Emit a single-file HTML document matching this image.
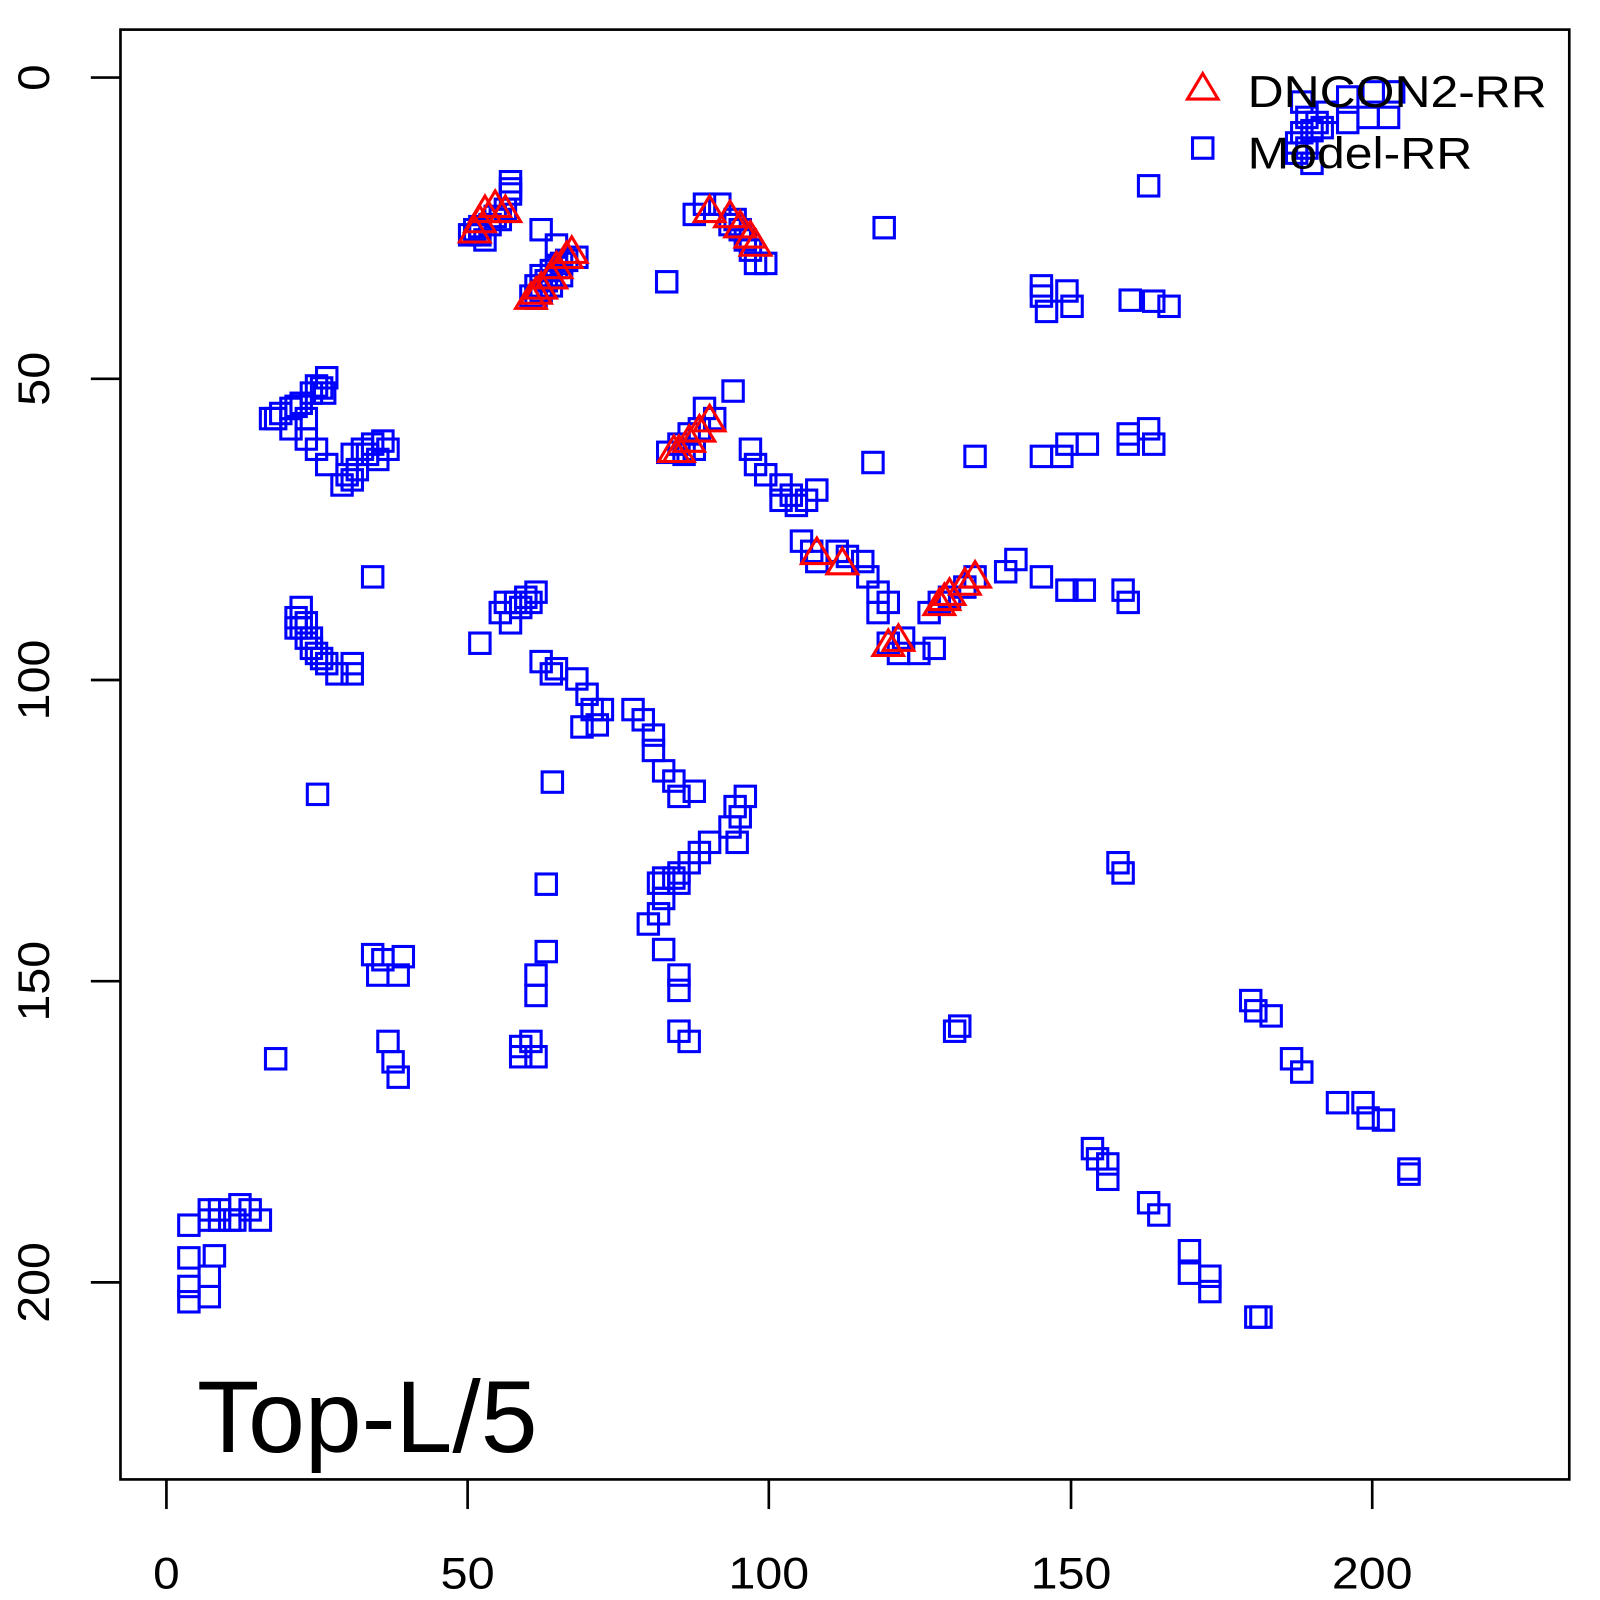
<!DOCTYPE html>
<html><head><meta charset="utf-8"><style>html,body{margin:0;padding:0;background:#fff}svg{display:block}</style></head>
<body>
<svg id="s" width="1600" height="1600" xmlns="http://www.w3.org/2000/svg" font-family="Liberation Sans, sans-serif">
<g transform="scale(1.021)">
<rect x="118" y="29" width="1419" height="1420" fill="none" stroke="#000" stroke-width="2.6"/>
<g stroke="#000" stroke-width="2.6">
<line x1="163" y1="1449" x2="163" y2="1478"/><line x1="458" y1="1449" x2="458" y2="1478"/><line x1="753" y1="1449" x2="753" y2="1478"/><line x1="1049" y1="1449" x2="1049" y2="1478"/><line x1="1344" y1="1449" x2="1344" y2="1478"/>
<line x1="89" y1="76" x2="118" y2="76"/><line x1="89" y1="371" x2="118" y2="371"/><line x1="89" y1="666" x2="118" y2="666"/><line x1="89" y1="961" x2="118" y2="961"/><line x1="89" y1="1256" x2="118" y2="1256"/>
</g>
<g font-size="44" text-anchor="middle" fill="#000" lengthAdjust="spacingAndGlyphs">
<text x="163" y="1556" textLength="26" lengthAdjust="spacingAndGlyphs">0</text><text x="458" y="1556" textLength="53" lengthAdjust="spacingAndGlyphs">50</text><text x="753" y="1556" textLength="79" lengthAdjust="spacingAndGlyphs">100</text><text x="1049" y="1556" textLength="79" lengthAdjust="spacingAndGlyphs">150</text><text x="1344" y="1556" textLength="79" lengthAdjust="spacingAndGlyphs">200</text>
<text transform="translate(48,76) rotate(-90)" textLength="26" lengthAdjust="spacingAndGlyphs">0</text>
<text transform="translate(48,371) rotate(-90)" textLength="53" lengthAdjust="spacingAndGlyphs">50</text>
<text transform="translate(48,666) rotate(-90)" textLength="79" lengthAdjust="spacingAndGlyphs">100</text>
<text transform="translate(48,961) rotate(-90)" textLength="79" lengthAdjust="spacingAndGlyphs">150</text>
<text transform="translate(48,1256) rotate(-90)" textLength="79" lengthAdjust="spacingAndGlyphs">200</text>
</g>
<g id="sq" fill="none" stroke="#00f" stroke-width="3"></g>
<g id="tr" fill="none" stroke="#f00" stroke-width="3"></g>
<text x="193" y="1422" font-size="100">Top-L/5</text>
<text x="1222" y="105" font-size="44" textLength="293" lengthAdjust="spacingAndGlyphs">DNCON2-RR</text>
<text x="1222" y="165" font-size="44" textLength="220" lengthAdjust="spacingAndGlyphs">Model-RR</text>
<rect x="1168" y="135" width="20" height="20" fill="none" stroke="#00f" stroke-width="3"/>
<polygon points="1178,72 1193,97 1163,97" fill="none" stroke="#f00" stroke-width="3"/>
</g>
</svg>
<script>
var S=[[1275,100],[1280,115],[1285,128],[1270,150],[1285,160],[1290,120],[1300,110],[1320,120],[1345,90],[1360,115],[1365,90],[1320,95],[1340,115],[1275,130],[1280,145],[1270,140],[1295,125],
[1125,182],[866,223],[653,276],
[500,178],[500,190],[495,205],[490,215],[480,220],[470,230],[460,230],[475,235],[465,225],[530,225],[545,240],[500,185],[485,212],[470,222],
[520,290],[530,285],[525,280],[535,275],[540,265],[550,258],[555,255],[565,252],[530,270],[545,262],[525,292],[540,280],[550,270],
[690,200],[705,200],[720,215],[725,225],[735,245],[740,258],[750,258],[680,210],[715,220],[730,235],
[1020,280],[1025,305],[1045,285],[1050,300],[1107,294],[1130,295],[1145,300],[1020,290],
[265,410],[275,405],[285,400],[295,395],[305,385],[315,380],[320,370],[300,410],[285,420],[300,430],[310,440],[320,455],[270,410],[290,398],[310,378],[318,385],
[345,445],[355,440],[365,435],[375,432],[380,440],[340,465],[335,475],[350,460],[370,450],[345,470],[360,445],
[654,443],[665,435],[675,425],[685,420],[690,400],[700,410],[680,440],[718,383],[670,445],
[735,440],[740,455],[750,465],[765,475],[775,485],[790,490],[800,480],[780,495],[765,490],
[855,453],[955,447],[1020,447],[1040,447],[1045,435],[1065,435],[1105,425],[1105,435],[1125,420],[1130,435],
[785,530],[795,540],[800,550],[820,540],[830,545],[845,550],[850,565],[860,580],[870,590],[860,600],[870,630],[880,640],[885,625],[900,640],[915,635],[910,600],[920,590],[930,585],[945,575],[955,565],[985,560],[995,548],[1020,565],[1045,578],[1062,578],[1100,578],[1105,590],
[365,565],
[290,605],[295,615],[300,625],[305,635],[310,640],[320,650],[330,660],[345,650],[345,660],[295,595],[290,615],[300,610],[305,625],[315,645],
[470,630],[490,600],[505,590],[515,585],[525,580],[500,610],[495,590],[510,595],[520,590],
[530,648],[545,655],[540,660],[565,665],[575,680],[580,695],[585,710],[590,695],[570,712],
[620,695],[630,705],[640,720],[640,735],[650,755],[660,765],[665,780],[680,775],
[311,778],[541,766],
[720,790],[730,780],[725,800],[715,810],[722,825],[695,825],[685,835],[675,845],[665,855],[650,860],[665,865],[650,880],[645,895],[635,905],[650,930],[665,955],[665,970],[665,1010],[675,1020],[660,860],[645,865],
[535,866],[535,932],[525,955],[525,975],[510,1025],[520,1020],[525,1035],[510,1035],
[365,935],[375,940],[395,937],[390,955],[370,955],[380,1020],[385,1040],[390,1055],[270,1037],
[1095,845],[1100,855],[940,1005],[935,1010],[1225,980],[1230,990],[1245,995],[1265,1037],[1275,1050],[1310,1080],[1335,1080],[1340,1095],[1355,1097],[1380,1145],[1380,1150],
[1070,1125],[1075,1135],[1085,1140],[1085,1155],[1125,1178],[1135,1190],[1165,1225],[1165,1247],[1185,1250],[1185,1265],[1235,1290],[1230,1290],
[185,1200],[185,1232],[185,1260],[185,1275],[205,1270],[205,1250],[210,1230],[205,1195],[215,1185],[225,1195],[235,1180],[245,1185],[255,1195],[205,1185],[230,1195],[215,1195]];
var T=[[470,215],[475,205],[485,200],[495,205],[465,225],[520,290],[530,280],[540,270],[545,260],[555,250],[560,245],[525,285],[695,205],[715,210],[725,220],[735,230],[740,238],[665,440],[675,430],[685,420],[695,410],[660,440],[800,540],[825,550],[870,630],[880,625],[920,590],[930,580],[945,570],[955,563],[925,585]];
var g=document.getElementById("sq"),h="";
S.forEach(function(p){h+='<rect x="'+(p[0]-10)+'" y="'+(p[1]-10)+'" width="20" height="20"/>';});
g.innerHTML=h;h="";
T.forEach(function(p){var x=p[0],y=p[1];h+='<polygon points="'+x+','+(y-13)+' '+(x+15)+','+(y+12)+' '+(x-15)+','+(y+12)+'"/>';});
document.getElementById("tr").innerHTML=h;
</script>
</body></html>
